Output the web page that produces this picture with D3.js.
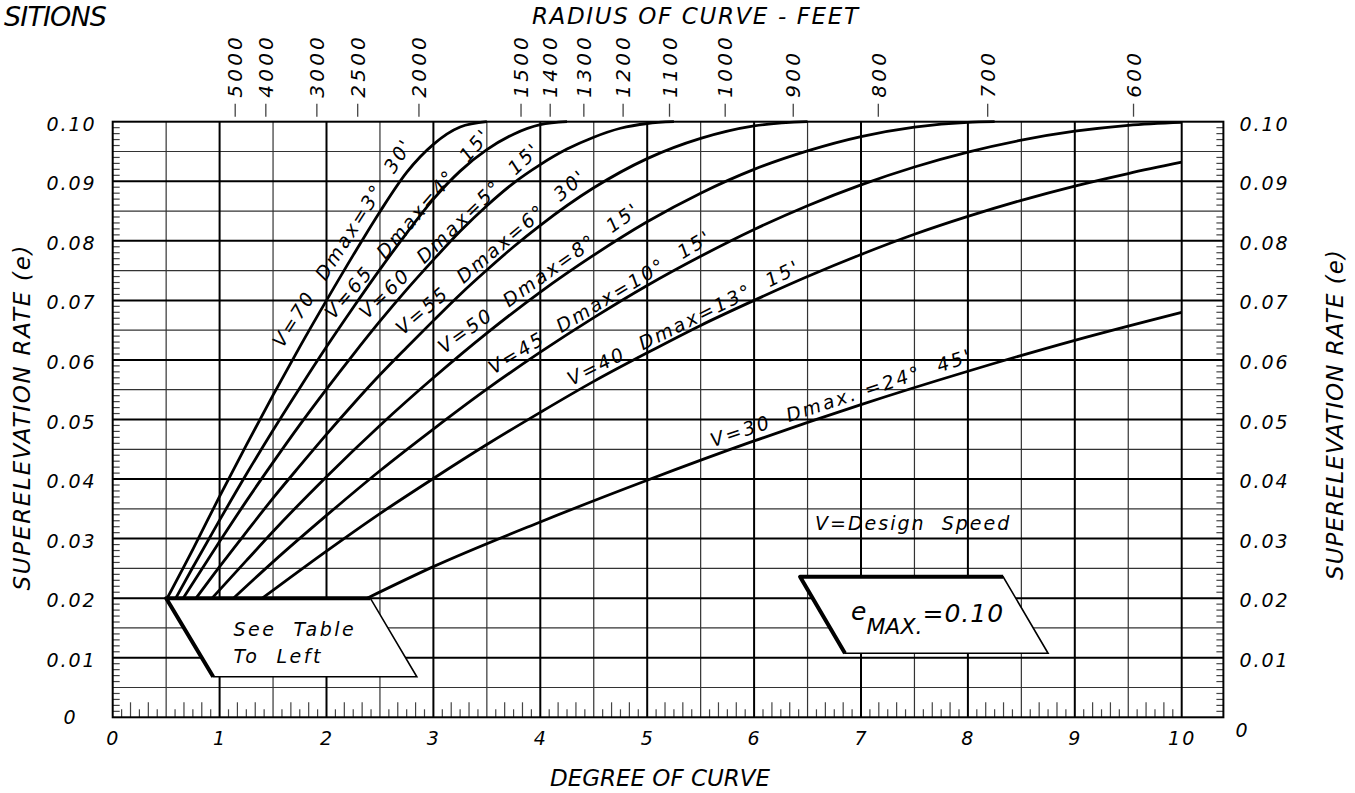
<!DOCTYPE html>
<html>
<head>
<meta charset="utf-8">
<script src="https://cdn.jsdelivr.net/npm/d3@7"></script>
<style>
  body { margin: 0; background: #fff; }
  text { font-family: "DejaVu Sans", sans-serif; font-style: italic; fill: #000; white-space: pre; }
</style>
</head>
<body>
<svg id="chart" width="1355" height="793"></svg>
<script>
// superelevation curves, emax = 0.10 (degree of curve vs e)
var speeds = [70, 65, 60, 55, 50, 45, 40, 30];
var curveLabels = ["V=70  Dmax=3°  30'", "V=65  Dmax=4°  15'", "V=60  Dmax=5°  15'", "V=55  Dmax=6°  30'",
                   "V=50  Dmax=8°  15'", "V=45  Dmax=10°  15'", "V=40  Dmax=13°  15'", "V=30  Dmax. =24°  45'"];
var curveDeg = [
  [0.51, 0.75, 1.0, 1.25, 1.5, 1.75, 2.0, 2.25, 2.5, 2.75, 3.0, 3.25, 3.5],
  [0.59, 0.75, 1.0, 1.25, 1.5, 1.75, 2.0, 2.25, 2.5, 2.75, 3.0, 3.25, 3.5, 3.75, 4.0, 4.25],
  [0.66, 1.0, 1.25, 1.5, 1.75, 2.0, 2.25, 2.5, 2.75, 3.0, 3.25, 3.5, 3.75, 4.0, 4.25, 4.5, 4.75, 5.0, 5.25],
  [0.78, 1.0, 1.25, 1.5, 1.75, 2.0, 2.25, 2.5, 2.75, 3.0, 3.25, 3.5, 3.75, 4.0, 4.5, 5.0, 5.5, 6.0, 6.5],
  [0.93, 1.25, 1.5, 2.0, 2.5, 3.0, 3.5, 4.0, 4.5, 5.0, 5.5, 6.0, 6.5, 7.0, 7.5, 8.0, 8.25],
  [1.13, 1.5, 2.0, 2.5, 3.0, 3.5, 4.0, 4.5, 5.0, 5.5, 6.0, 6.5, 7.0, 7.5, 8.0, 8.5, 9.0, 9.5, 10],
  [1.40, 2.0, 2.5, 3.0, 3.5, 4.0, 4.5, 5.0, 5.5, 6.0, 6.5, 7.0, 7.5, 8.0, 8.5, 9.0, 9.5, 10],
  [2.38, 3.0, 4.0, 5.0, 6.0, 7.0, 8.0, 9.0, 10]
];
var curveE = [
  [0.02, 0.0282, 0.0371, 0.0457, 0.0541, 0.0622, 0.0700, 0.0776, 0.0849, 0.0915, 0.0962, 0.0991, 0.10],
  [0.02, 0.0252, 0.0331, 0.0408, 0.0482, 0.0553, 0.0622, 0.0688, 0.0752, 0.0813, 0.0870, 0.0917, 0.0953, 0.0979, 0.0995, 0.10],
  [0.02, 0.0295, 0.0363, 0.0428, 0.0491, 0.0551, 0.0609, 0.0665, 0.0718, 0.0768, 0.0816, 0.0859, 0.0897, 0.0928, 0.0954, 0.0974, 0.0989, 0.0997, 0.10],
  [0.02, 0.0253, 0.0311, 0.0368, 0.0422, 0.0475, 0.0526, 0.0575, 0.0621, 0.0666, 0.0710, 0.0751, 0.0790, 0.0826, 0.0889, 0.0938, 0.0972, 0.0993, 0.10],
  [0.02, 0.0263, 0.0312, 0.0404, 0.0490, 0.0570, 0.0645, 0.0714, 0.0776, 0.0832, 0.0880, 0.0920, 0.0951, 0.0975, 0.0991, 0.0999, 0.10],
  [0.02, 0.0261, 0.0339, 0.0414, 0.0484, 0.0551, 0.0613, 0.0671, 0.0725, 0.0774, 0.0819, 0.0859, 0.0894, 0.0924, 0.0949, 0.0969, 0.0984, 0.0994, 0.0999],
  [0.02, 0.0279, 0.0342, 0.0401, 0.0458, 0.0512, 0.0564, 0.0612, 0.0658, 0.0700, 0.0740, 0.0777, 0.0811, 0.0841, 0.0868, 0.0892, 0.0913, 0.0932],
  [0.02, 0.0253, 0.0328, 0.0398, 0.0464, 0.0525, 0.0581, 0.0633, 0.0680]
];
// where each curve label sits: degree of curve at its foot, and its distance off the curve (px)
var labelStart = [1.70, 2.13, 2.45, 2.78, 3.16, 3.60, 4.32, 5.64];
var labelGap = [14, 9, 11, 11, 11, 8, 7, 8];

var degreeTicks = [0, 1, 2, 3, 4, 5, 6, 7, 8, 9, 10];
var eTicks = [0, 0.01, 0.02, 0.03, 0.04, 0.05, 0.06, 0.07, 0.08, 0.09, 0.10];
var radiusTicks = [5000, 4000, 3000, 2500, 2000, 1500, 1400, 1300, 1200, 1100, 1000, 900, 800, 700, 600];

var svg = d3.select("#chart");

var x = d3.scaleLinear().domain([0, 10]).range([112.7, 1181.7]);
var y = d3.scaleLinear().domain([0, 0.10]).range([717.3, 121.7]);
var xEnd = 10.39; // frame runs a bit past 10

//MarK: grid
var grid = svg.append("g");
var halfX = d3.range(0.5, 10, 1), intX = d3.range(1, 11);
var halfY = d3.range(0.005, 0.1, 0.01), intY = d3.range(0.01, 0.1, 0.01);

grid.selectAll(".vminor").data(halfX).enter().append("line")
  .attr("x1", function(d) { return x(d); }).attr("x2", function(d) { return x(d); })
  .attr("y1", y(0)).attr("y2", y(0.1))
  .attr("stroke", "#333").attr("stroke-width", 1.2);
grid.selectAll(".hminor").data(halfY).enter().append("line")
  .attr("x1", x(0)).attr("x2", x(xEnd))
  .attr("y1", function(d) { return y(d); }).attr("y2", function(d) { return y(d); })
  .attr("stroke", "#333").attr("stroke-width", 1.2);
grid.selectAll(".vmajor").data(intX).enter().append("line")
  .attr("x1", function(d) { return x(d); }).attr("x2", function(d) { return x(d); })
  .attr("y1", y(0)).attr("y2", y(0.1))
  .attr("stroke", "#000").attr("stroke-width", 2);
grid.selectAll(".hmajor").data(intY).enter().append("line")
  .attr("x1", x(0)).attr("x2", x(xEnd))
  .attr("y1", function(d) { return y(d); }).attr("y2", function(d) { return y(d); })
  .attr("stroke", "#000").attr("stroke-width", 2);

// small ticks: every 5 minutes on the bottom, every 0.001 on the sides
var minuteTicks = d3.range(1, 120).filter(function(i) { return i % 6 != 0; });
grid.selectAll(".mt").data(minuteTicks).enter().append("line")
  .attr("x1", function(i) { return x(i / 12); }).attr("x2", function(i) { return x(i / 12); })
  .attr("y1", y(0)).attr("y2", function(i) { return y(0) - (i % 2 == 0 ? 15 : 8); })
  .attr("stroke", "#444").attr("stroke-width", 1.2);
var eMinor = d3.range(1, 100).filter(function(i) { return i % 5 != 0; });
grid.selectAll(".elt").data(eMinor).enter().append("line")
  .attr("x1", x(0)).attr("x2", x(0) + 7)
  .attr("y1", function(i) { return y(i / 1000); }).attr("y2", function(i) { return y(i / 1000); })
  .attr("stroke", "#444").attr("stroke-width", 1.2);
grid.selectAll(".ert").data(eMinor).enter().append("line")
  .attr("x1", x(xEnd)).attr("x2", x(xEnd) - 7)
  .attr("y1", function(i) { return y(i / 1000); }).attr("y2", function(i) { return y(i / 1000); })
  .attr("stroke", "#444").attr("stroke-width", 1.2);

// frame
svg.append("rect")
  .attr("x", x(0)).attr("y", y(0.1))
  .attr("width", x(xEnd) - x(0)).attr("height", y(0) - y(0.1))
  .attr("fill", "none").attr("stroke", "#000").attr("stroke-width", 2);

//MarK: axes labels
var bottomAxis = d3.axisBottom(x).tickValues(degreeTicks).tickSize(0).tickPadding(14)
  .tickFormat(function(d) { return d; });
svg.append("g").attr("transform", "translate(0," + y(0) + ")").call(bottomAxis)
  .call(function(g) { g.select(".domain").remove(); })
  .selectAll("text").attr("font-size", 19).attr("letter-spacing", 2)
  .attr("font-family", "DejaVu Sans").attr("fill", "#000");

var leftAxis = d3.axisLeft(y).tickValues(eTicks).tickSize(0).tickPadding(18)
  .tickFormat(function(d) { return d == 0 ? "0" : d3.format(".2f")(d); });
svg.append("g").attr("transform", "translate(" + x(0) + ",0)").call(leftAxis)
  .call(function(g) { g.select(".domain").remove(); })
  .selectAll("text").attr("font-size", 19).attr("letter-spacing", 2)
  .attr("font-family", "DejaVu Sans").attr("fill", "#000")
  .attr("dy", function(d) { return d == 0 ? "0.35em" : "0.45em"; })
  .attr("x", function(d) { return d == 0 ? -35 : -16; });

var rightAxis = d3.axisRight(y).tickValues(eTicks).tickSize(0).tickPadding(18)
  .tickFormat(function(d) { return d == 0 ? "0" : d3.format(".2f")(d); });
svg.append("g").attr("transform", "translate(" + x(xEnd) + ",0)").call(rightAxis)
  .call(function(g) { g.select(".domain").remove(); })
  .selectAll("text").attr("font-size", 19).attr("letter-spacing", 2)
  .attr("font-family", "DejaVu Sans").attr("fill", "#000")
  .attr("dy", function(d) { return d == 0 ? "1.0em" : "0.45em"; })
  .attr("x", function(d) { return d == 0 ? 12 : 16; });

// radius of curve along the top: D = 5729.58 / R
var topAxis = svg.append("g");
topAxis.selectAll("line").data(radiusTicks).enter().append("line")
  .attr("x1", function(r) { return x(5729.58 / r); }).attr("x2", function(r) { return x(5729.58 / r); })
  .attr("y1", y(0.1) - 18).attr("y2", y(0.1) - 5)
  .attr("stroke", "#444").attr("stroke-width", 1.3);
topAxis.selectAll("text").data(radiusTicks).enter().append("text")
  .attr("transform", function(r) { return "translate(" + x(5729.58 / r) + "," + (y(0.1) - 24) + ") rotate(-90)"; })
  .attr("dy", "0.36em").attr("font-size", 20).attr("letter-spacing", 3.2)
  .text(function(r) { return r; });

// titles
svg.append("text").attr("x", 695).attr("y", 24).attr("text-anchor", "middle")
  .attr("font-size", 23).attr("textLength", 326).text("RADIUS OF CURVE - FEET");
svg.append("text").attr("x", 660).attr("y", 786).attr("text-anchor", "middle")
  .attr("font-size", 23).attr("textLength", 220).text("DEGREE OF CURVE");
svg.append("text").attr("transform", "translate(30,418) rotate(-90)").attr("text-anchor", "middle")
  .attr("font-size", 23).attr("textLength", 345).text("SUPERELEVATION RATE (e)");
svg.append("text").attr("transform", "translate(1343,415) rotate(-90)").attr("text-anchor", "middle")
  .attr("font-size", 23).attr("textLength", 330).text("SUPERELEVATION RATE (e)");
svg.append("text").attr("x", 4).attr("y", 26)
  .attr("font-size", 27).attr("textLength", 103).text("SITIONS");

//MarK: see table box (white, covers grid)
var tableBox = [[0.5, 0.02], [2.41, 0.02], [2.845, 0.0068], [0.94, 0.0068]];
svg.append("polygon")
  .attr("points", tableBox.map(function(p) { return x(p[0]) + "," + y(p[1]); }).join(" "))
  .attr("fill", "#fff").attr("stroke", "#000").attr("stroke-width", 1.6);
svg.append("polyline")
  .attr("points", [tableBox[3], tableBox[0], tableBox[1]].map(function(p) { return x(p[0]) + "," + y(p[1]); }).join(" "))
  .attr("fill", "none").attr("stroke", "#000").attr("stroke-width", 4).attr("stroke-linejoin", "round");
svg.append("text").attr("x", x(1.13)).attr("y", y(0.0136)).attr("font-size", 19).attr("letter-spacing", 2.5)
  .attr("font-weight", 300).text("See  Table");
svg.append("text").attr("x", x(1.13)).attr("y", y(0.0092)).attr("font-size", 19).attr("letter-spacing", 2.5)
  .attr("font-weight", 300).text("To  Left");

//MarK: curves
var line = d3.line()
  .curve(d3.curveMonotoneX)
  .x(function(d) { return x(d[0]); })
  .y(function(d) { return y(d[1]); });

var curves = svg.append("g").selectAll("path")
  .data(speeds.map(function(v, i) { return d3.zip(curveDeg[i], curveE[i]); }))
  .enter().append("path")
  .attr("d", line)
  .attr("fill", "none").attr("stroke", "#000").attr("stroke-width", 2.8)
  .attr("stroke-linejoin", "round");

// labels running along each curve
curves.each(function(d, i) {
  var node = this;
  var t = svg.append("text").attr("font-size", 19).attr("letter-spacing", 2.4)
    .attr("font-weight", 300).text(curveLabels[i]);
  var len = t.node().getComputedTextLength();
  var px = x(labelStart[i]);
  var lo = 0, hi = node.getTotalLength();
  for (var k = 0; k < 40; k++) {
    var mid = (lo + hi) / 2;
    if (node.getPointAtLength(mid).x < px) lo = mid; else hi = mid;
  }
  var p0 = node.getPointAtLength(lo);
  var p1 = node.getPointAtLength(Math.min(lo + len, node.getTotalLength()));
  var a = Math.atan2(p1.y - p0.y, p1.x - p0.x);
  var gap = labelGap[i];
  var tx = p0.x + Math.sin(a) * gap, ty = p0.y - Math.cos(a) * gap;
  t.attr("transform", "translate(" + tx + "," + ty + ") rotate(" + (a * 180 / Math.PI) + ")");
});

//MarK: emax box
var emaxBox = [[6.43, 0.0236], [8.33, 0.0236], [8.75, 0.01075], [6.85, 0.01075]];
svg.append("polygon")
  .attr("points", emaxBox.map(function(p) { return x(p[0]) + "," + y(p[1]); }).join(" "))
  .attr("fill", "#fff").attr("stroke", "#000").attr("stroke-width", 1.6);
svg.append("polyline")
  .attr("points", [emaxBox[3], emaxBox[0], emaxBox[1]].map(function(p) { return x(p[0]) + "," + y(p[1]); }).join(" "))
  .attr("fill", "none").attr("stroke", "#000").attr("stroke-width", 4).attr("stroke-linejoin", "round");
var em = svg.append("text").attr("x", 851).attr("y", 620);
em.append("tspan").attr("font-size", 25).text("e");
em.append("tspan").attr("font-size", 22).attr("dy", 14).text("MAX.");
em.append("tspan").attr("font-size", 25).attr("dy", -12).attr("letter-spacing", 1).text("=0.10");

svg.append("text").attr("x", x(6.57)).attr("y", y(0.0314)).attr("font-size", 19).attr("letter-spacing", 2)
  .attr("font-weight", 300).text("V=Design  Speed");
</script>
</body>
</html>
